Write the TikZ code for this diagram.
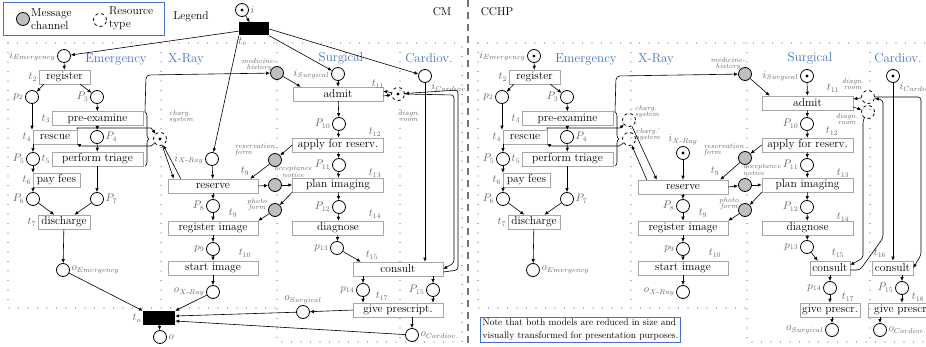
\documentclass[tikz,border=0pt]{standalone}
\usepackage{amsmath}
\usetikzlibrary{arrows.meta,decorations.pathreplacing}
\definecolor{lanecol}{RGB}{68,114,196}

\begin{document}
\begin{tikzpicture}[
  x=1pt, y=-1pt,
  font=\fontsize{11.5}{13}\selectfont,
  place/.style={circle, draw, line width=0.8pt, minimum size=13pt, inner sep=0pt},
  marked/.style={place, path picture={\fill (path picture bounding box.center) circle (1.7pt);}},
  msg/.style={place, fill=black!25},
  res/.style={place, dashed},
  trans/.style={draw=black!35, line width=0.5pt, minimum height=14pt, inner sep=0pt,
    path picture={\draw[line width=1.4pt] (path picture bounding box.north west) -- (path picture bounding box.south west);}},
  bar/.style={fill=black, minimum width=30pt, minimum height=13pt, inner sep=0pt},
  lbl/.style={text=black!60, inner sep=1.5pt, font=\fontsize{10.5}{12}\selectfont},
  tag/.style={text=black!60, font=\fontsize{7}{6.5}\selectfont\itshape, align=center, inner sep=0pt},
  lane/.style={text=lanecol, font=\fontsize{13}{14}\selectfont},
  frame/.style={draw=lanecol, line width=0.8pt},
  arc/.style={-{Latex[length=4pt,width=3.5pt]}, line width=0.6pt},
  sep/.style={draw=lanecol, line width=1.1pt, line cap=round, dash pattern=on 0pt off 9.5pt}
]
\useasboundingbox (0,0) rectangle (926,347);

% legend and titles
\node[frame, minimum width=161pt, minimum height=33pt, inner sep=0pt] (legend) at (83.5,18.5) {};
\node[msg] (legmsg) at (23,19) {};
\node[align=left, anchor=west, inner sep=0pt] (legmsgtxt) at (31,19) {Message\\channel};
\node[res] (legres) at (100,20) {};
\node[align=left, anchor=west, inner sep=0pt] (legrestxt) at (109,18) {Resource\\type};
\node (legendtitle) at (191,17) {Legend};
\node (cm) at (442,12) {CM};
\node (cchp) at (497,12) {CCHP};
\draw[line width=2.2pt, draw=black!55, dash pattern=on 7pt off 5pt] (468,0) -- (468,347);

%%% CM
\draw[sep] (8,43) -- (462,43);
\draw[sep] (8,43) -- (8,308) -- (277,308);
\draw[sep] (161,43) -- (161,308);
\draw[sep] (277,43) -- (277,342) -- (462,342) -- (462,43);
\draw[sep] (400,43) -- (400,342);
\node[lane] (emg) at (116,59) {Emergency};
\node[lane] (xray) at (186,59) {X-Ray};
\node[lane] (surg) at (341,58) {Surgical};
\node[lane] (card) at (429,58) {Cardiov.};

\node[marked, label={[lbl]right:$i$}] (i) at (242,10) {};
\node[bar, label={[lbl]below left:$t_i$}] (ti) at (254,29) {};
\node[bar, minimum width=32pt, minimum height=14pt, label={[lbl]left:$t_o$}] (to) at (159,318) {};
\node[place, label={[lbl]right:$o$}] (o) at (160,337) {};

% emergency
\node[place, label={[lbl]left:$i_{Emergency}$}] (iE) at (64,56) {};
\node[trans, minimum width=51pt, label={[lbl]left:$t_2$}] (t2) at (64.5,77) {register};
\node[place, label={[lbl]left:$p_2$}] (p2) at (32,97) {};
\node[place, label={[lbl]left:$P_3$}] (p3) at (97,97) {};
\node[trans, minimum width=91pt, label={[lbl]left:$t_3$}] (t3) at (97.5,118.5) {pre-examine};
\node[trans, minimum width=44pt, label={[lbl]left:$t_4$}] (t4) at (55,137) {rescue};
\node[place, label={[lbl]right:$P_4$}] (p4) at (97,137) {};
\node[place, label={[lbl]left:$P_5$}] (p5) at (33,159) {};
\node[trans, minimum width=91pt, label={[lbl]left:$t_5$}] (t5) at (97.5,159) {perform triage};
\node[trans, minimum width=47pt, label={[lbl]left:$t_6$}] (t6) at (56.5,180) {pay fees};
\node[place, label={[lbl]left:$P_6$}] (p6) at (33,199) {};
\node[place, label={[lbl]right:$P_7$}] (p7) at (97,199) {};
\node[trans, minimum width=52pt, label={[lbl]left:$t_7$}] (t7) at (64,222) {discharge};
\node[place, label={[lbl]right:$o_{Emergency}$}] (oE) at (63,270) {};
\node[res, marked, dashed] (cs) at (160,139) {};
\node[tag, align=left] (csl) at (181,117) {charg.\\system};
\coordinate (brA) at (145,112);
\coordinate (brB) at (145,166);

% x-ray
\node[place, label={[lbl]left:$i_{X\text{-}Ray}$}] (iX) at (212,159) {};
\node[trans, minimum width=90pt] (t8) at (213,186) {reserve};
\node[lbl] (t8l) at (245,171) {$t_9$};
\node[place, label={[lbl]left:$P_8$}] (p8) at (213,206) {};
\node[trans, minimum width=90pt] (t9) at (213,228) {register image};
\node[lbl] (t9l) at (233,213) {$t_9$};
\node[place, label={[lbl]left:$p_9$}] (p9) at (213,249) {};
\node[trans, minimum width=90pt] (t10) at (213,268) {start image};
\node[lbl] (t10l) at (245,253) {$t_{10}$};
\node[place, label={[lbl]left:$o_{X\text{-}Ray}$}] (oX) at (213,292) {};

% message channels
\node[msg] (mh) at (277,73) {};
\node[tag] (mhl) at (259,65) {medicine-\\history};
\node[msg] (rf) at (275,160) {};
\node[tag, align=left] (rfl) at (255,150) {reservation\\form};
\node[msg] (an) at (275,185) {};
\node[tag] (anl) at (293,172) {acceptance\\notice};
\node[msg] (pf) at (275,210) {};
\node[tag] (pfl) at (257,205) {photo\\form};

% surgical
\node[place, label={[lbl]left:$i_{Surgical}$}] (iS) at (338,74) {};
\node[trans, minimum width=90pt] (t11) at (338,94) {admit};
\node[lbl] (t11l) at (378,84) {$t_{11}$};
\node[place, label={[lbl]left:$P_{10}$}] (p10) at (339,124) {};
\node[trans, minimum width=91pt] (t12) at (338,145) {apply for reserv.};
\node[lbl] (t12l) at (375,132) {$t_{12}$};
\node[place, label={[lbl]left:$P_{11}$}] (p11) at (339,165) {};
\node[trans, minimum width=91pt] (t13) at (338,185) {plan imaging};
\node[lbl] (t13l) at (375,173) {$t_{13}$};
\node[place, label={[lbl]left:$P_{12}$}] (p12) at (339,207) {};
\node[trans, minimum width=91pt] (t14) at (338,228) {diagnose};
\node[lbl] (t14l) at (375,214) {$t_{14}$};
\node[place, label={[lbl]left:$p_{13}$}] (p13) at (337,248) {};
\node[trans, minimum width=90pt] (t15) at (398,269) {consult};
\node[lbl] (t15l) at (372,255) {$t_{15}$};
\node[place, label={[lbl]left:$p_{14}$}] (p14) at (363,290) {};
\node[place, label={[lbl]left:$P_{15}$}] (p15) at (433,290) {};
\node[trans, minimum width=90pt] (t17) at (398,310) {give prescript.};
\node[lbl] (t17l) at (382,296) {$t_{17}$};
\node[place, label={[lbl]above:$o_{Surgical}$}] (oS) at (303,312) {};

% cardiov
\node[place, label={[lbl]below right:$i_{Cardiov.}$}] (iC) at (425,76) {};
\node[res, marked, dashed] (dr) at (398,94) {};
\node[tag] (drl) at (409,116) {diagn.\\room};
\node[place, label={[lbl]right:$o_{Cardiov.}$}] (oC) at (412,335) {};

\draw[arc] (i) -- (ti);
\draw[arc] (ti) -- (iE);
\draw[arc] (ti.south west) -- (iX);
\draw[arc] (ti.south east) -- (iS);
\draw[arc] (ti.east) -- (iC);
\draw[arc] (iE) -- (t2);
\draw[arc] ([xshift=5pt]t2.south west) -- (p2);
\draw[arc] ([xshift=-10pt]t2.south east) -- (p3);
\draw[arc] (p2) -- (p2 |- t4.north);
\draw[arc] (p3) -- (t3);
\draw[arc] (t3) -- (p4);
\draw[arc] (p4) -- (t5);
\draw[arc] (p5 |- t4.south) -- (p5);
\draw[arc] (p5) -- (p5 |- t6.north);
\draw[arc] (p6 |- t6.south) -- (p6);
\draw[arc] (p6) -- (t7);
\draw[arc] (p7 |- t5.south) -- (p7);
\draw[arc] (p7) -- (t7);
\draw[arc] (t7) -- (oE);
\draw[arc] (oE) -- (to.north west);
\draw[arc] (to) -- (o);
\draw[arc] (t4.north east) -- (77,128) -- (151,128) -- (cs);
\draw[arc] (cs) -- (151,146) -- (82,146) -- (t4);
\draw[decorate, decoration={brace, amplitude=4pt}, line width=0.6pt] (brA) -- (brB);
\draw[arc] (cs) -- ([xshift=6pt]t8.north west);
\draw[arc] ([xshift=13pt]t8.north west) -- (cs);
\draw[arc] (iX) -- (t8);
\draw[arc] (t8) -- (p8);
\draw[arc] (p8) -- (t9);
\draw[arc] (t9) -- (p9);
\draw[arc] (p9) -- (t10);
\draw[arc] (t10) -- (oX);
\draw[arc] (oX) -- (to.north east);
\draw[arc, rounded corners=4pt] (brA) -- (146,75) -- (mh);
\draw[arc] (mh) -- ([xshift=8pt]t11.north west);
\draw[arc] (t12.west) -- (rf);
\draw[arc] (rf) -- ([xshift=-8pt]t8.north east);
\draw[arc] (t8.east) -- (an);
\draw[arc] (an) -- (t13.west);
\draw[arc] (t13.south west) -- (pf);
\draw[arc] (pf) -- (t9.north east);
\draw[arc] (iS) -- (t11);
\draw[arc] (t11) -- (p10);
\draw[arc] (p10) -- (t12);
\draw[arc] (t12) -- (p11);
\draw[arc] (p11) -- (t13);
\draw[arc] (t13) -- (p12);
\draw[arc] (p12) -- (t14);
\draw[arc] (t14) -- (p13);
\draw[arc] (p13) -- ([xshift=8pt]t15.north west);
\draw[arc] (p14 |- t15.south) -- (p14);
\draw[arc] (p14) -- (p14 |- t17.north);
\draw[arc] (p15 |- t15.south) -- (p15);
\draw[arc] (p15) -- (p15 |- t17.north);
\draw[arc] (t17.west) -- (oS);
\draw[arc] (oC |- t17.south) -- (oC);
\draw[arc] (oS) -- ([yshift=2pt]to.east);
\draw[arc] (oC) -- ([yshift=-3pt]to.east);
\draw[arc] (iC) -- (iC |- t15.north);
\draw[arc] (dr) -- ([yshift=3pt]t11.east);
\draw[arc] ([yshift=-2pt]t11.east) -- (dr);
\draw[arc, rounded corners=3pt] (dr.east) -- (454,95) -- (454,263) -- (t15.east);
\draw[arc, rounded corners=3pt] ([yshift=-3pt]t15.east) -- (458,270) -- (458,90) -- (dr);

%%% CCHP
\draw[sep] (478,43) -- (926,43);
\draw[sep] (478,43) -- (478,308) -- (747,308);
\draw[sep] (631,43) -- (631,308);
\draw[sep] (747,43) -- (747,342) -- (926,342);
\draw[sep] (870,43) -- (870,342);
\node[lane] (hemg) at (586,59) {Emergency};
\node[lane] (hxray) at (656,59) {X-Ray};
\node[lane] (hsurg) at (810,58) {Surgical};
\node[lane] (hcard) at (898,58) {Cardiov.};

% emergency
\node[marked, label={[lbl]left:$i_{Emergency}$}] (hiE) at (534,56) {};
\node[trans, minimum width=51pt, label={[lbl]left:$t_2$}] (ht2) at (534.5,77) {register};
\node[place, label={[lbl]left:$p_2$}] (hp2) at (502,97) {};
\node[place, label={[lbl]left:$P_3$}] (hp3) at (567,97) {};
\node[trans, minimum width=91pt, label={[lbl]left:$t_3$}] (ht3) at (567.5,118.5) {pre-examine};
\node[trans, minimum width=44pt, label={[lbl]left:$t_4$}] (ht4) at (525,137) {rescue};
\node[place, label={[lbl]right:$P_4$}] (hp4) at (567,137) {};
\node[place, label={[lbl]left:$P_5$}] (hp5) at (503,159) {};
\node[trans, minimum width=91pt, label={[lbl]left:$t_5$}] (ht5) at (567.5,159) {perform triage};
\node[trans, minimum width=47pt, label={[lbl]left:$t_6$}] (ht6) at (526.5,180) {pay fees};
\node[place, label={[lbl]left:$P_6$}] (hp6) at (503,199) {};
\node[place, label={[lbl]right:$P_7$}] (hp7) at (567,199) {};
\node[trans, minimum width=52pt, label={[lbl]left:$t_7$}] (ht7) at (534,222) {discharge};
\node[place, label={[lbl]right:$o_{Emergency}$}] (hoE) at (533,270) {};
\node[res] (hcs) at (629,120) {};
\node[tag, align=left] (hcsl) at (647,112) {charg.\\system};
\node[res] (hcs2) at (629,139) {};
\node[tag, align=left] (hcs2l) at (648,135) {charg.'\\system};
\coordinate (hbrA) at (615,112);
\coordinate (hbrB) at (615,166);

% x-ray
\node[marked, label={[lbl]above:$i_{X\text{-}Ray}$}] (hiX) at (683,153) {};
\node[trans, minimum width=90pt] (ht8) at (683,187) {reserve};
\node[lbl] (ht8l) at (715,171) {$t_9$};
\node[place, label={[lbl]left:$P_8$}] (hp8) at (683,206) {};
\node[trans, minimum width=90pt] (ht9) at (683,228) {register image};
\node[lbl] (ht9l) at (703,213) {$t_9$};
\node[place, label={[lbl]left:$p_9$}] (hp9) at (683,249) {};
\node[trans, minimum width=90pt] (ht10) at (683,268) {start image};
\node[lbl] (ht10l) at (715,253) {$t_{10}$};
\node[place, label={[lbl]left:$o_{X\text{-}Ray}$}] (hoX) at (683,292) {};

% message channels
\node[msg] (hmh) at (745,74) {};
\node[tag] (hmhl) at (728,64) {medicine-\\history};
\node[msg] (hrf) at (745,158) {};
\node[tag, align=left] (hrfl) at (724,150) {reservation\\form};
\node[msg] (han) at (745,185) {};
\node[tag, align=left] (hanl) at (762,170) {acceptance\\notice};
\node[msg] (hpf) at (745,210) {};
\node[tag] (hpfl) at (729,204) {photo\\form};

% surgical
\node[marked, label={[lbl]left:$i_{Surgical}$}] (hiS) at (807,76) {};
\node[trans, minimum width=91pt] (ht11) at (807.5,103) {admit};
\node[lbl] (ht11l) at (833,88) {$t_{11}$};
\node[place, label={[lbl]left:$P_{10}$}] (hp10) at (807,124) {};
\node[trans, minimum width=91pt] (ht12) at (807.5,145) {apply for reserv.};
\node[lbl] (ht12l) at (832,131) {$t_{12}$};
\node[place, label={[lbl]left:$P_{11}$}] (hp11) at (807,165) {};
\node[trans, minimum width=91pt] (ht13) at (807.5,185) {plan imaging};
\node[lbl] (ht13l) at (843,173) {$t_{13}$};
\node[place, label={[lbl]left:$P_{12}$}] (hp12) at (807,207) {};
\node[trans, minimum width=91pt] (ht14) at (807.5,228) {diagnose};
\node[lbl] (ht14l) at (843,217) {$t_{14}$};
\node[place, label={[lbl]left:$p_{13}$}] (hp13) at (807,247) {};
\node[trans, minimum width=40pt] (ht15) at (830,268) {consult};
\node[lbl] (ht15l) at (838,253) {$t_{15}$};
\node[place, label={[lbl]left:$p_{14}$}] (hp14) at (830,288) {};
\node[trans, minimum width=60pt] (ht17) at (830,310) {give prescr.};
\node[lbl] (ht17l) at (848,297) {$t_{17}$};
\node[place, label={[lbl]left:$o_{Surgical}$}] (hoS) at (832,330) {};

% cardiov
\node[marked, label={[lbl]below right:$i_{Cardiov.}$}] (hiC) at (893,76) {};
\node[res] (hdr1) at (868,97) {};
\node[tag] (hdrl1) at (853,84) {diagn.\\room};
\node[res] (hdr2) at (868,112) {};
\node[tag] (hdrl2) at (847,119) {diagn.\\room};
\node[trans, minimum width=41pt] (ht16) at (892.5,268) {consult};
\node[lbl] (ht16l) at (880,253) {$t_{16}$};
\node[place, label={[lbl]left:$P_{15}$}] (hp15) at (902,288) {};
\node[trans, minimum width=68pt] (ht18) at (902,310) {give prescr.};
\node[lbl] (ht18l) at (918,297) {$t_{18}$};
\node[place, label={[lbl]right:$o_{Cardiov.}$}] (hoC) at (880,330) {};

% note
\node[frame, align=left, font=\fontsize{9.5}{12.5}\selectfont, inner sep=2pt] (note) at (580.5,329.5) {Note that both models are reduced in size and\\visually transformed for presentation purposes.};

\draw[arc] (hiE) -- (ht2);
\draw[arc] ([xshift=5pt]ht2.south west) -- (hp2);
\draw[arc] ([xshift=-10pt]ht2.south east) -- (hp3);
\draw[arc] (hp2) -- (hp2 |- ht4.north);
\draw[arc] (hp3) -- (ht3);
\draw[arc] (ht3) -- (hp4);
\draw[arc] (hp4) -- (ht5);
\draw[arc] (hp5 |- ht4.south) -- (hp5);
\draw[arc] (hp5) -- (hp5 |- ht6.north);
\draw[arc] (hp6 |- ht6.south) -- (hp6);
\draw[arc] (hp6) -- (ht7);
\draw[arc] (hp7 |- ht5.south) -- (hp7);
\draw[arc] (hp7) -- (ht7);
\draw[arc] (ht7) -- (hoE);
\draw[arc] (ht4.north east) -- (547,128) -- (620,128) -- (hcs);
\draw[arc] (hcs2) -- (619,146) -- (552,146) -- (ht4);
\draw[decorate, decoration={brace, amplitude=4pt}, line width=0.6pt] (hbrA) -- (hbrB);
\draw[arc] (hcs) -- ([xshift=19pt]ht8.north west);
\draw[arc] ([xshift=9pt]ht8.north west) -- (hcs2);
\draw[arc] (hiX) -- (ht8);
\draw[arc] (ht8) -- (hp8);
\draw[arc] (hp8) -- (ht9);
\draw[arc] (ht9) -- (hp9);
\draw[arc] (hp9) -- (ht10);
\draw[arc] (ht10) -- (hoX);
\draw[arc, rounded corners=4pt] (hbrA) -- (616,76) -- (hmh);
\draw[arc] (hmh) -- ([xshift=8pt]ht11.north west);
\draw[arc] (ht12.west) -- (hrf);
\draw[arc] (hrf) -- ([xshift=-8pt]ht8.north east);
\draw[arc] (ht8.east) -- (han);
\draw[arc] (han) -- (ht13.west);
\draw[arc] (ht13.south west) -- (hpf);
\draw[arc] (hpf) -- (ht9.north east);
\draw[arc] (hiS) -- (ht11);
\draw[arc] (ht11) -- (hp10);
\draw[arc] (hp10) -- (ht12);
\draw[arc] (ht12) -- (hp11);
\draw[arc] (hp11) -- (ht13);
\draw[arc] (ht13) -- (hp12);
\draw[arc] (hp12) -- (ht14);
\draw[arc] (ht14) -- (hp13);
\draw[arc] (hp13) -- ([xshift=8pt]ht15.north west);
\draw[arc] (hp14 |- ht15.south) -- (hp14);
\draw[arc] (hp14) -- (hp14 |- ht17.north);
\draw[arc] (hoS |- ht17.south) -- (hoS);
\draw[arc] (hiC) -- (hiC |- ht16.north);
\draw[arc] (hp15 |- ht16.south) -- (hp15);
\draw[arc] (hp15) -- (hp15 |- ht18.north);
\draw[arc] (hoC |- ht18.south) -- (hoC);
\draw[arc] (hdr1) -- ([yshift=4pt]ht11.east);
\draw[arc] ([yshift=-4pt]ht11.east) -- (hdr2);
\draw[arc, rounded corners=3pt] (hdr2) -- (863,120) -- (863,258) -- ([yshift=3pt]ht15.east);
\draw[arc, rounded corners=3pt] ([yshift=-2pt]ht15.east) -- (860,270) -- (883,238) -- (883,100) -- (hdr1);
\draw[arc, rounded corners=3pt] (hdr1) -- (921,97) -- (921,255) -- (ht16.east);
\end{tikzpicture}
\end{document}
